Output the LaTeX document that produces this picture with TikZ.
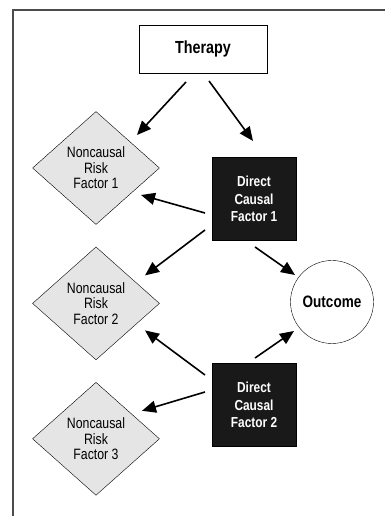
\documentclass[tikz,border=0pt]{standalone}
\usepackage{fontspec}
\setmainfont{Liberation Sans}[FakeStretch=0.82]
\usetikzlibrary{arrows.meta,positioning,shapes.geometric}
\tikzset{
  therapybox/.style ={draw,align=center,minimum width=128pt,minimum height=48pt,fill=white,
                      font=\fontsize{17.5}{20}\selectfont\bfseries},
  riskbox/.style    ={draw,diamond,inner sep=0pt,align=center,minimum width=127pt,minimum height=113pt,
                      fill=gray!20,font=\fontsize{15}{15.5}\selectfont},
  causebox/.style   ={draw=black,fill=black!90,text=white,align=center,minimum width=84pt,minimum height=83pt,
                      font=\fontsize{14.5}{17.5}\selectfont\bfseries},
  outcomebox/.style ={draw,circle,inner sep=0pt,minimum size=83pt,font=\fontsize{16.5}{18}\selectfont\bfseries},
  arrow/.style      ={-{Triangle[length=14pt,width=12pt]},line width=1.6pt},
  frameline/.style  ={draw=black!70,line width=1.5pt}
}
\begin{document}
\begin{tikzpicture}[x=1pt,y=1pt]
    \useasboundingbox (0,0) rectangle (385,516);
    \draw[frameline] (13,0) -- (13,506) -- (385,506);
    \node[therapybox] (therapy) at (203,467) {Therapy};
    \node[riskbox] (risk1) at (96,348) {Noncausal\\Risk\\Factor 1};
    \node[riskbox, below=22pt of risk1] (risk2) {Noncausal\\Risk\\Factor 2};
    \node[riskbox, below=22pt of risk2] (risk3) {Noncausal\\Risk\\Factor 3};
    \node[causebox] (cause1) at (254,317) {Direct\\Causal\\Factor 1};
    \node[causebox] (cause2) at (254,111) {Direct\\Causal\\Factor 2};
    \node[outcomebox] (outcome) at (332,214) {Outcome};
    \foreach \from/\fs/\to/\ts in {therapy/{-17,-33}/risk1/{41,33}, therapy/{6,-32}/cause1/{-1,58},
        cause1/{-49,-14}/risk1/{45,-27}, cause1/{-49,-31}/risk2/{49,28}, cause1/{1,-48}/outcome/{-37,27},
        cause2/{-49,30}/risk2/{49,-27}, cause2/{1,47}/outcome/{-38,-29}, cause2/{-49,13}/risk3/{46,28}}
      \draw[arrow] ([shift={(\fs)}]\from.center) -- ([shift={(\ts)}]\to.center);
  \end{tikzpicture}
\end{document}
